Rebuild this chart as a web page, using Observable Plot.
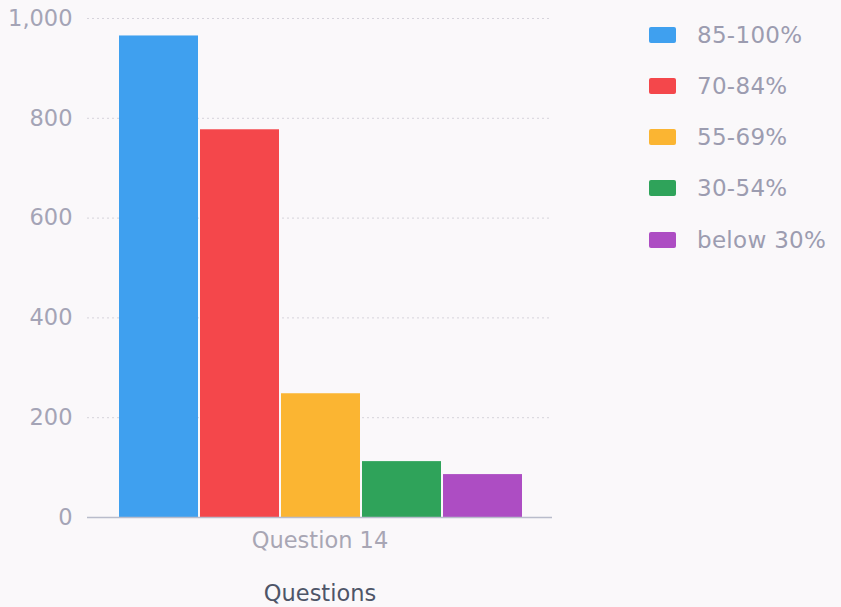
<!DOCTYPE html>
<html>
<head>
<meta charset="utf-8">
<script src="https://cdn.jsdelivr.net/npm/d3@7"></script>
<script src="https://cdn.jsdelivr.net/npm/@observablehq/plot@0.6"></script>
<style>
  html, body { margin: 0; padding: 0; background: #faf8fa; }
  body { width: 841px; height: 607px; position: relative; overflow: hidden; font-family: "DejaVu Sans", sans-serif; }
  #chart { position: absolute; left: 0; top: 0; }
  #legend { position: absolute; left: 649px; top: 0; }
  .item { position: absolute; left: 0; display: flex; align-items: center; white-space: nowrap; }
  .sw { width: 27px; height: 16px; border-radius: 2px; margin-right: 21px; }
  .lab { font-size: 23px; color: #9c9cb0; letter-spacing: 0.3px; }
</style>
</head>
<body>
<div id="chart"></div>
<div id="legend"></div>
<script>
const question = "Question 14";
const series = ["85-100%", "70-84%", "55-69%", "30-54%", "below 30%"];
const values = [965, 777, 248, 112, 86];
const colors = ["#3fa0ef", "#f4474b", "#fbb532", "#2fa35a", "#ad4dc3"];
const yTicks = [0, 200, 400, 600, 800, 1000];
const gridTicks = [200, 400, 600, 800, 1000];

const data = series.map((s, i) => ({question, series: s, value: values[i]}));

const plot = Plot.plot({
  width: 560,
  height: 607,
  marginLeft: 87,
  marginRight: 8,
  marginTop: 18,
  marginBottom: 90,
  style: {background: "transparent", fontFamily: "'DejaVu Sans', sans-serif", fontSize: "22.5px", color: "#a4a4b6"},
  x: {domain: series, range: [117, 524], paddingInner: 0.02, paddingOuter: 0, axis: null},
  y: {domain: [0, 1000], ticks: yTicks, tickFormat: d3.format(","), tickSize: 0, tickPadding: 15, label: null},
  color: {domain: series, range: colors},
  marks: [
    Plot.ruleY(gridTicks, {stroke: "#d6d3db", strokeDasharray: "2,3", strokeWidth: 1}),
    Plot.barY(data, {x: "series", y: "value", fill: "series"}),
    Plot.ruleY([0], {stroke: "#b9bccb", strokeWidth: 1.5}),
    Plot.text([question], {frameAnchor: "bottom", dy: 30, fill: "#a8a6b4", fontSize: 22.5}),
    Plot.text(["Questions"], {frameAnchor: "bottom", dy: 83, fill: "#4e5568", fontSize: 22.5})
  ]
});
document.getElementById("chart").appendChild(plot);

const legend = document.getElementById("legend");
const rowY = [35, 86, 137, 188, 240];
series.forEach((s, i) => {
  const item = document.createElement("div");
  item.className = "item";
  item.style.top = (rowY[i] - 13) + "px";
  item.style.height = "26px";
  const sw = document.createElement("div");
  sw.className = "sw";
  sw.style.background = colors[i];
  const lab = document.createElement("span");
  lab.className = "lab";
  lab.textContent = s;
  item.appendChild(sw);
  item.appendChild(lab);
  legend.appendChild(item);
});
</script>
</body>
</html>
